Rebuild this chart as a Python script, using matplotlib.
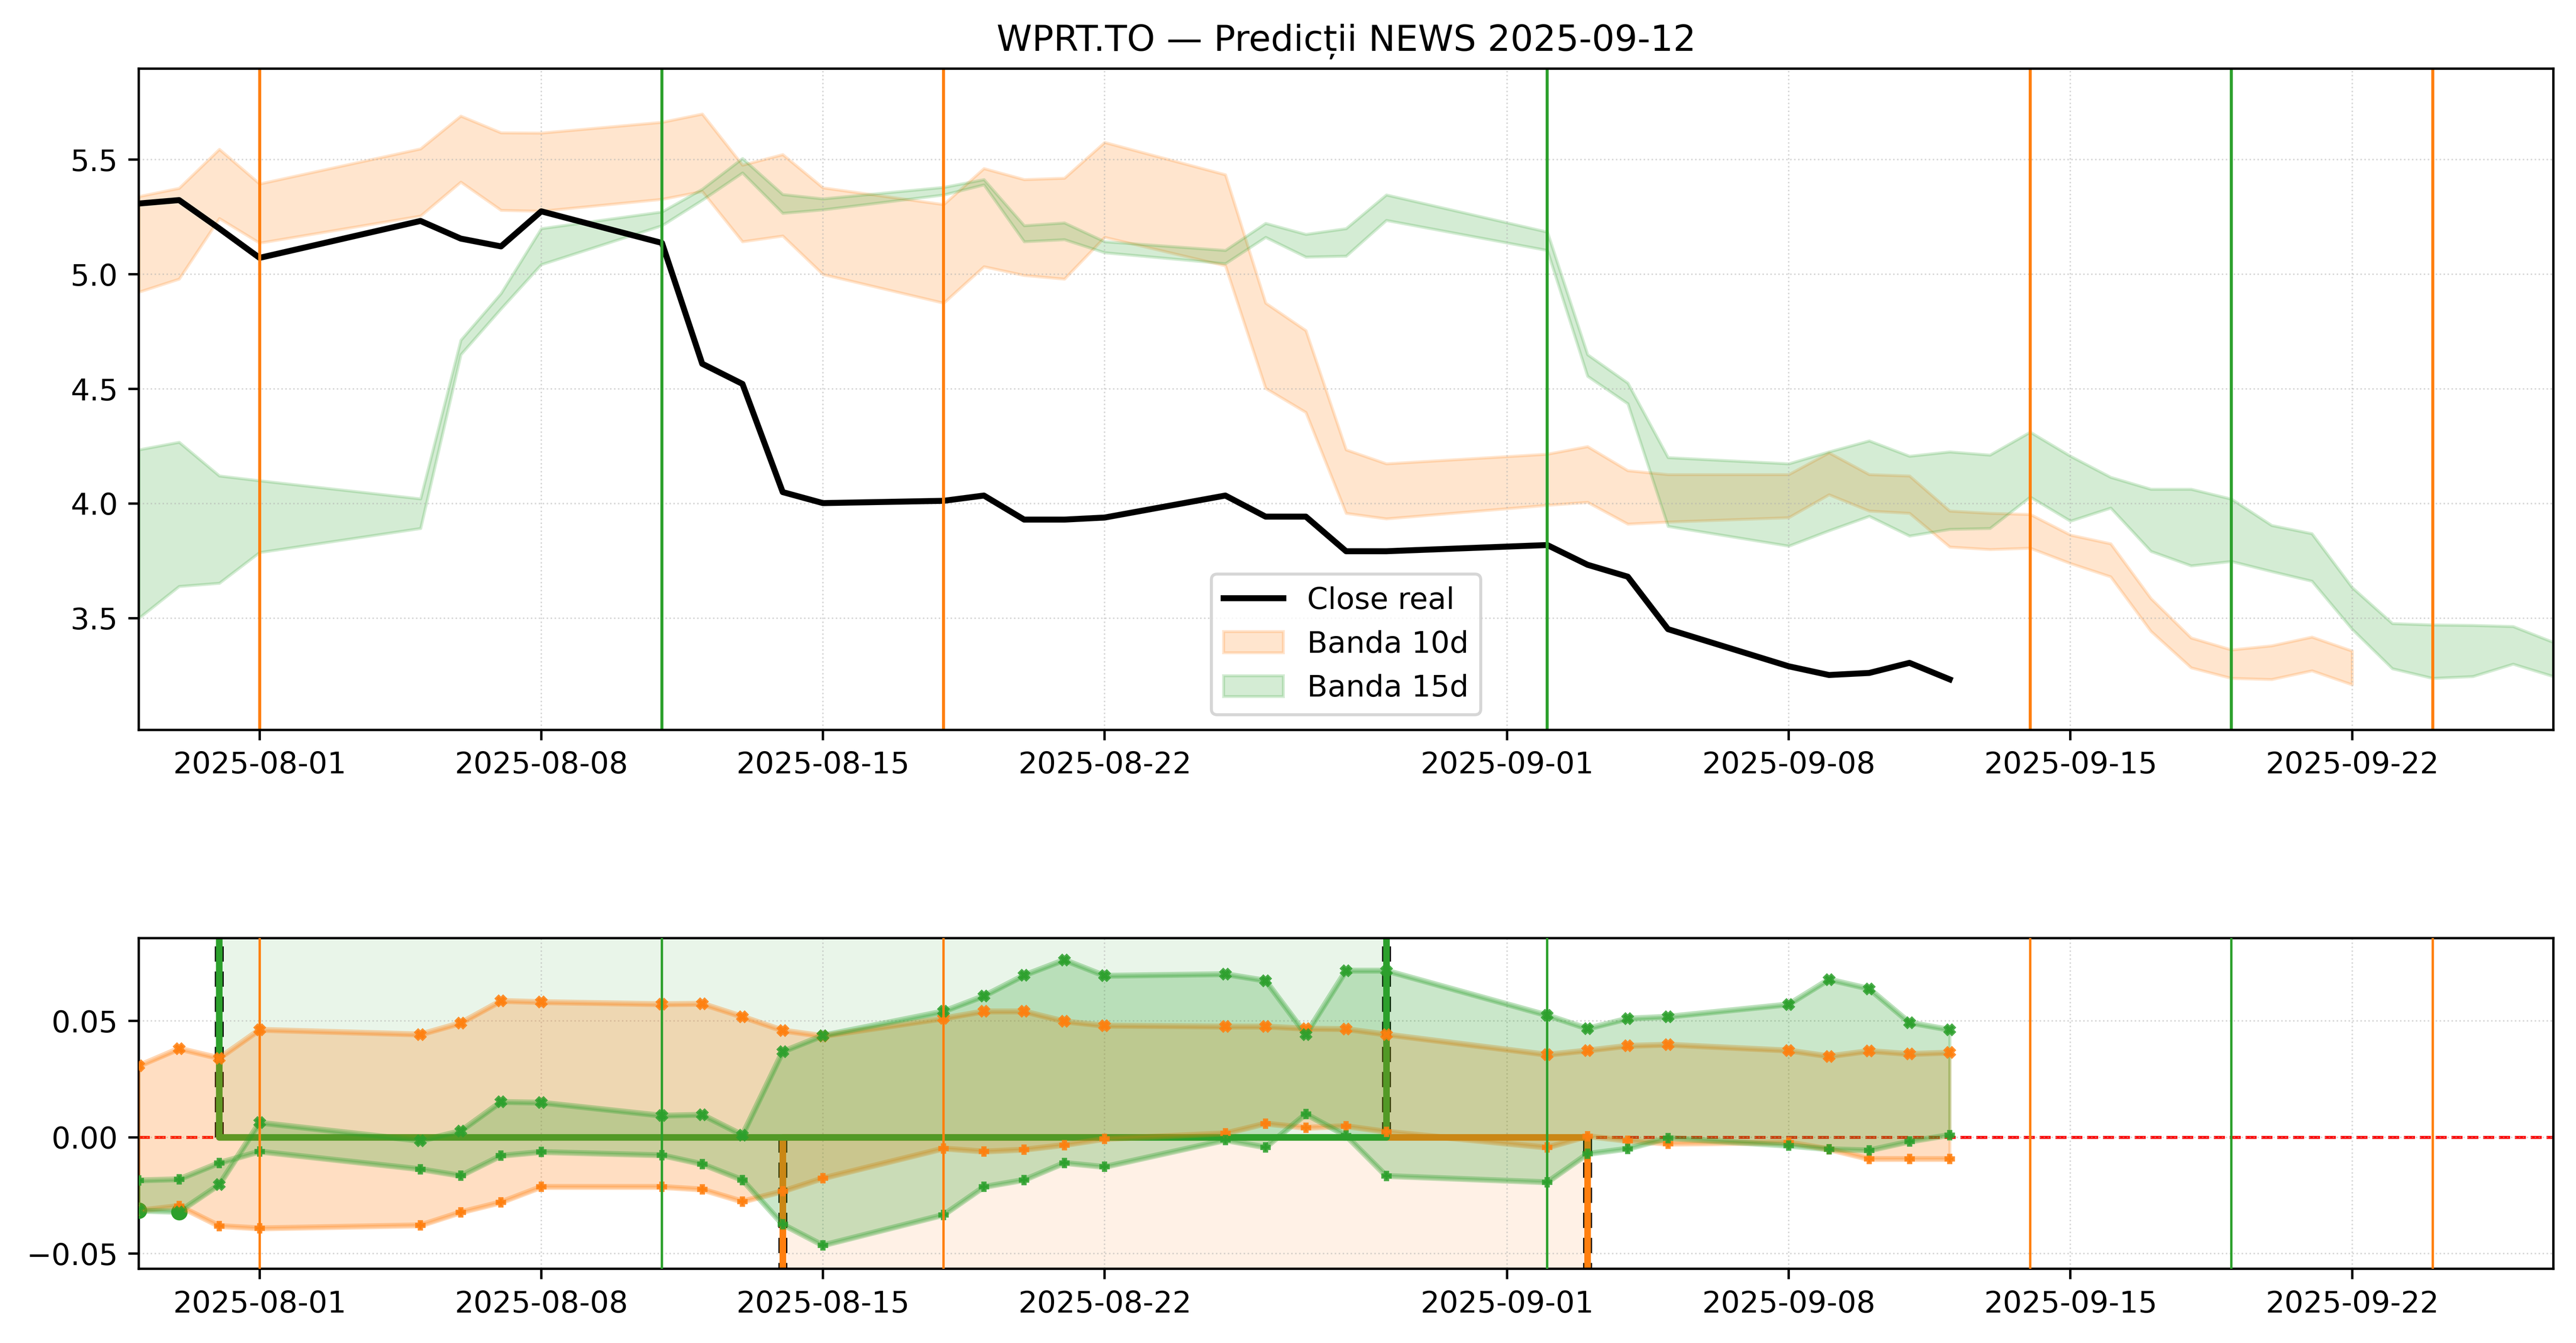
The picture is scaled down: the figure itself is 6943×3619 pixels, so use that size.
import numpy as np
import pandas as pd
import matplotlib
matplotlib.use("Agg")
import matplotlib.pyplot as plt
import matplotlib.dates as mdates

# trading days with real closes
days = pd.to_datetime([
    "2025-07-29", "2025-07-30", "2025-07-31", "2025-08-01", "2025-08-05", "2025-08-06",
    "2025-08-07", "2025-08-08", "2025-08-11", "2025-08-12", "2025-08-13", "2025-08-14",
    "2025-08-15", "2025-08-18", "2025-08-19", "2025-08-20", "2025-08-21", "2025-08-22",
    "2025-08-25", "2025-08-26", "2025-08-27", "2025-08-28", "2025-08-29", "2025-09-02",
    "2025-09-03", "2025-09-04", "2025-09-05", "2025-09-08", "2025-09-09", "2025-09-10",
    "2025-09-11", "2025-09-12"])
close = [5.309, 5.324, 5.200, 5.072, 5.233, 5.156, 5.122, 5.275, 5.137, 4.610, 4.522, 4.050,
         4.002, 4.012, 4.035, 3.930, 3.930, 3.939, 4.035, 3.943, 3.943, 3.792, 3.792, 3.819,
         3.733, 3.681, 3.452, 3.290, 3.252, 3.261, 3.305, 3.233]

# forward days after the last close
fwd10 = pd.date_range("2025-09-13", "2025-09-22")
fwd15 = pd.date_range("2025-09-13", "2025-09-27")

up10 = [5.340, 5.376, 5.546, 5.395, 5.548, 5.691, 5.618, 5.617, 5.664, 5.700, 5.477, 5.523,
        5.378, 5.305, 5.462, 5.414, 5.420, 5.576, 5.435, 4.875, 4.755, 4.235, 4.174, 4.216,
        4.249, 4.144, 4.127, 4.127, 4.222, 4.127, 4.121, 3.968,
        3.958, 3.953, 3.863, 3.825, 3.586, 3.414, 3.362, 3.380, 3.418, 3.357]
lo10 = [4.923, 4.980, 5.244, 5.137, 5.255, 5.403, 5.280, 5.276, 5.328, 5.362, 5.143, 5.168,
        5.000, 4.875, 5.034, 4.996, 4.980, 5.162, 5.038, 4.503, 4.398, 3.958, 3.934, 3.993,
        4.006, 3.911, 3.920, 3.939, 4.039, 3.968, 3.958, 3.811,
        3.800, 3.806, 3.739, 3.681, 3.443, 3.284, 3.238, 3.233, 3.271, 3.210]
up15 = [4.235, 4.268, 4.121, 4.100, 4.021, 4.713, 4.917, 5.200, 5.273, 5.372, 5.506, 5.349,
        5.330, 5.380, 5.414, 5.213, 5.225, 5.143, 5.105, 5.223, 5.175, 5.200, 5.347, 5.185,
        4.650, 4.526, 4.201, 4.174, 4.226, 4.274, 4.207, 4.226,
        4.212, 4.312, 4.207, 4.115, 4.063, 4.063, 4.020, 3.905, 3.869, 3.634, 3.477, 3.471,
        3.469, 3.464, 3.395]
lo15 = [3.500, 3.639, 3.653, 3.787, 3.892, 4.650, 4.850, 5.043, 5.213, 5.324, 5.443, 5.267,
        5.282, 5.347, 5.391, 5.143, 5.152, 5.095, 5.047, 5.162, 5.076, 5.080, 5.236, 5.105,
        4.556, 4.436, 3.901, 3.815, 3.882, 3.945, 3.859, 3.888,
        3.892, 4.029, 3.924, 3.981, 3.792, 3.729, 3.748, 3.704, 3.662, 3.452, 3.280, 3.238,
        3.246, 3.300, 3.246]

# bottom panel: band edges as returns
ret10_x = [0.0307, 0.0381, 0.0340, 0.0462, 0.0442, 0.0491, 0.0586, 0.0581, 0.0572, 0.0574,
           0.0518, 0.0459, 0.0435, 0.0511, 0.0541, 0.0541, 0.0498, 0.0480, 0.0476, 0.0476,
           0.0467, 0.0465, 0.0442, 0.0355, 0.0373, 0.0393, 0.0398, 0.0373, 0.0348, 0.0371,
           0.0358, 0.0364]
ret10_p = [-0.0315, -0.0295, -0.0381, -0.0391, -0.0378, -0.0322, -0.0279, -0.0213, -0.0213,
           -0.0224, -0.0276, -0.0232, -0.0176, -0.0048, -0.0061, -0.0053, -0.0033, -0.0007,
           0.0017, 0.0059, 0.0041, 0.0048, 0.0024, -0.0044, 0.0005, -0.0015, -0.0027, -0.0022,
           -0.0051, -0.0093, -0.0093, -0.0093]
ret15_x = [-0.0315, -0.0320, -0.0203, 0.0063, -0.0015, 0.0027, 0.0152, 0.0149, 0.0093, 0.0097,
           0.0010, 0.0368, 0.0437, 0.0541, 0.0607, 0.0696, 0.0762, 0.0694, 0.0701, 0.0673,
           0.0442, 0.0716, 0.0716, 0.0524, 0.0467, 0.0510, 0.0518, 0.0571, 0.0678, 0.0638,
           0.0493, 0.0462]
ret15_p = [-0.0185, -0.0180, -0.0110, -0.0061, -0.0137, -0.0165, -0.0079, -0.0063, -0.0077,
           -0.0115, -0.0183, -0.0374, -0.0464, -0.0333, -0.0213, -0.0183, -0.0110, -0.0127,
           -0.0012, -0.0043, 0.0100, 0.0007, -0.0166, -0.0193, -0.0071, -0.0049, -0.0003,
           -0.0036, -0.0051, -0.0056, -0.0018, 0.0010]
hit15 = pd.to_datetime(["2025-07-29", "2025-07-30"])

news10 = pd.to_datetime(["2025-08-01", "2025-08-18", "2025-09-14", "2025-09-24"])
news15 = pd.to_datetime(["2025-08-11", "2025-09-02", "2025-09-19"])

# trades: entry, exit, direction
trade10 = (pd.Timestamp("2025-08-14"), pd.Timestamp("2025-09-03"), -1)
trade15 = (pd.Timestamp("2025-07-31"), pd.Timestamp("2025-08-29"), 1)

C10 = "#ff7f0e"
C15 = "#2ca02c"
DPI = 580
fig = plt.figure(figsize=(6943 / DPI, 3619 / DPI), dpi=DPI)
ax1 = fig.add_axes([0.0539, 0.4566, 0.9373, 0.4922])
ax2 = fig.add_axes([0.0539, 0.0552, 0.9373, 0.2463])

d10 = days.append(fwd10)
d15 = days.append(fwd15)
ax1.fill_between(d10, lo10, up10, color=C10, alpha=0.2, label="Banda 10d")
ax1.fill_between(d15, lo15, up15, color=C15, alpha=0.2, label="Banda 15d")
ax1.plot(days, close, color="black", lw=2, label="Close real")
for d in news10:
    ax1.axvline(d, color=C10, lw=1)
for d in news15:
    ax1.axvline(d, color=C15, lw=1)
h, l = ax1.get_legend_handles_labels()
order = [l.index("Close real"), l.index("Banda 10d"), l.index("Banda 15d")]
ax1.legend([h[i] for i in order], [l[i] for i in order], loc="lower center")
ax1.set_ylim(3.013, 5.897)
ax1.set_title("WPRT.TO — Predicții NEWS 2025-09-12", fontsize=12)

# bottom panel
big = 1.0
ax2.axhline(0, color="red", ls="--", lw=1, zorder=1)
for (t0, t1, sgn), c in [(trade10, C10), (trade15, C15)]:
    ax2.fill_between([t0, t1], 0, sgn * big, color=c, alpha=0.1, lw=0, zorder=1)
for (t0, t1, sgn), c in [(trade10, C10), (trade15, C15)]:
    ax2.vlines([t0, t1], 0, sgn * big, colors="black", linestyles=(0, (1.7, 1.1)), lw=3, zorder=2)
    ax2.plot([t0, t0, t1, t1], [sgn * big, 0, 0, sgn * big], color=c, lw=2.2, zorder=2.5)
hit_idx = [list(days).index(d) for d in hit15]
ax2.plot(hit15, [ret15_x[i] for i in hit_idx], "o", color=C15, ms=4.5, zorder=2.6)

for rx, rp, c in [(ret10_x, ret10_p, C10), (ret15_x, ret15_p, C15)]:
    ax2.fill_between(days, rp, rx, color=c, alpha=0.25, zorder=3)
    ax2.plot(days, rx, color=c, alpha=0.3, lw=2, zorder=3)
    ax2.plot(days, rp, color=c, alpha=0.3, lw=2, zorder=3)
    ax2.plot(days, rx, "X", color=c, ms=3, lw=0, alpha=0.85, zorder=3.2)
    ax2.plot(days, rp, "P", color=c, ms=2.5, lw=0, alpha=0.85, zorder=3.2)
for d in news10:
    ax2.axvline(d, color=C10, lw=0.8, zorder=4)
for d in news15:
    ax2.axvline(d, color=C15, lw=0.8, zorder=4)
ax2.set_ylim(-0.0565, 0.0856)

for ax in (ax1, ax2):
    ax.set_xlim(pd.Timestamp("2025-07-29"), pd.Timestamp("2025-09-27"))
    ax.xaxis.set_major_locator(mdates.DayLocator(bymonthday=[1, 8, 15, 22]))
    ax.xaxis.set_major_formatter(mdates.DateFormatter("%Y-%m-%d"))
    ax.grid(True, ls=":", lw=0.5, color="#b0b0b0", alpha=0.5)

fig.savefig("out.png", dpi=DPI)
